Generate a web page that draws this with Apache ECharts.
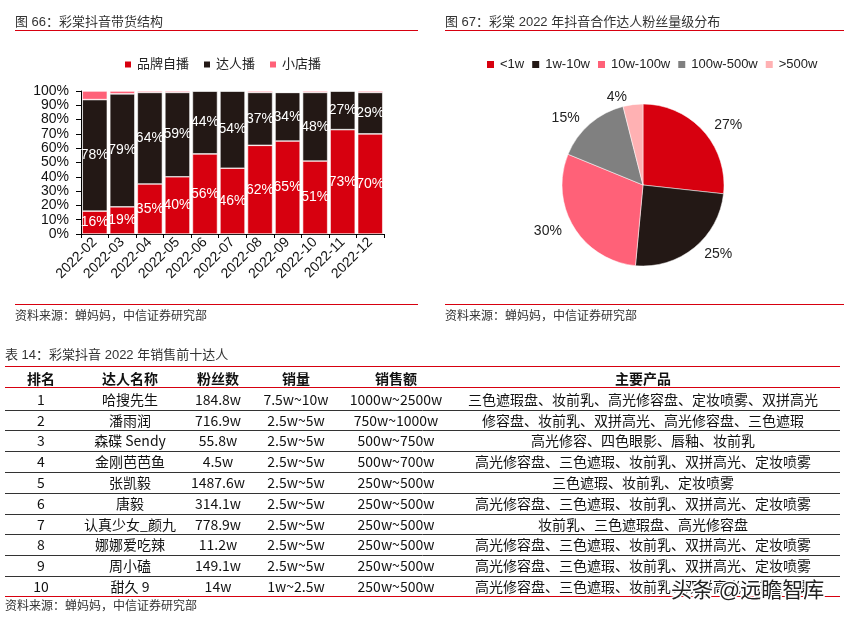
<!DOCTYPE html>
<html>
<head>
<meta charset="utf-8">
<script src="https://cdn.jsdelivr.net/npm/echarts@6/dist/echarts.min.js"></script>
<style>
html, body { margin: 0; padding: 0; background: #fff; }
#main { width: 844px; height: 621px; }
</style>
</head>
<body>
<div id="main"></div>
<script>
// 图66 数据
var months = ['2022-02','2022-03','2022-04','2022-05','2022-06','2022-07','2022-08','2022-09','2022-10','2022-11','2022-12'];
var selfLive = [16, 19, 35, 40, 56, 46, 62, 65, 51, 73, 70];
var talentLive = [78, 79, 64, 59, 44, 54, 37, 34, 48, 27, 29];
var shopLive = [6, 2, 1, 1, 0, 0, 1, 0, 1, 0, 1];

// 图67 数据
var fanLevels = ['<1w', '1w-10w', '10w-100w', '100w-500w', '>500w'];
var fanShare = [27, 25, 30, 15, 4];

// 表14 数据
var tableHeader = ['排名', '达人名称', '粉丝数', '销量', '销售额', '主要产品'];
var ranks = ['1', '2', '3', '4', '5', '6', '7', '8', '9', '10'];
var names = ['哈搜先生', '潘雨润', '森碟 Sendy', '金刚芭芭鱼', '张凯毅', '唐毅', '认真少女_颜九', '娜娜爱吃辣', '周小磕', '甜久 9'];
var fans = ['184.8w', '716.9w', '55.8w', '4.5w', '1487.6w', '314.1w', '778.9w', '11.2w', '149.1w', '14w'];
var sales = ['7.5w~10w', '2.5w~5w', '2.5w~5w', '2.5w~5w', '2.5w~5w', '2.5w~5w', '2.5w~5w', '2.5w~5w', '2.5w~5w', '1w~2.5w'];
var revenue = ['1000w~2500w', '750w~1000w', '500w~750w', '500w~700w', '250w~500w', '250w~500w', '250w~500w', '250w~500w', '250w~500w', '250w~500w'];
var products = [
    '三色遮瑕盘、妆前乳、高光修容盘、定妆喷雾、双拼高光',
    '修容盘、妆前乳、双拼高光、高光修容盘、三色遮瑕',
    '高光修容、四色眼影、唇釉、妆前乳',
    '高光修容盘、三色遮瑕、妆前乳、双拼高光、定妆喷雾',
    '三色遮瑕、妆前乳、定妆喷雾',
    '高光修容盘、三色遮瑕、妆前乳、双拼高光、定妆喷雾',
    '妆前乳、三色遮瑕盘、高光修容盘',
    '高光修容盘、三色遮瑕、妆前乳、双拼高光、定妆喷雾',
    '高光修容盘、三色遮瑕、妆前乳、双拼高光、定妆喷雾',
    '高光修容盘、三色遮瑕、妆前乳、双拼高光、定妆喷雾'
];

var FONT = "'Liberation Sans', Arial, 'Noto Sans CJK SC', sans-serif";
var NARROW = "'Liberation Sans Narrow', 'Arial Narrow', 'Noto Sans CJK SC', sans-serif";
var RED = '#D7000F', DARK = '#231815', PINK = '#FF6178', GRAY = '#808080', LIGHT = '#FFB1B3';

function txt(text, x, y, opt) {
    opt = opt || {};
    return {
        type: 'text', silent: true, z: opt.z || 1,
        style: {
            text: text, x: x, y: y,
            align: opt.align || 'left', verticalAlign: 'middle',
            fontSize: opt.size || 13, fontFamily: opt.family || FONT,
            fontWeight: opt.weight || 'normal', fill: opt.color || '#333',
            stroke: opt.stroke, lineWidth: opt.lineWidth || 0
        }
    };
}
function line(x1, y1, x2, y2, color, w) {
    return { type: 'line', silent: true, shape: { x1: x1, y1: y1, x2: x2, y2: y2 }, style: { stroke: color, lineWidth: w || 1 } };
}

var graphics = [];
// 标题和来源
graphics.push(txt('图 66：彩棠抖音带货结构', 15, 22, { color: '#333' }));
graphics.push(line(15, 30.5, 418, 30.5, RED, 1.2));
graphics.push(txt('图 67：彩棠 2022 年抖音合作达人粉丝量级分布', 445, 22, { color: '#333' }));
graphics.push(line(445, 30.5, 844, 30.5, RED, 1.2));
graphics.push(line(15, 304.5, 418, 304.5, RED, 1.2));
graphics.push(line(445, 304.5, 844, 304.5, RED, 1.2));
graphics.push(txt('资料来源：蝉妈妈，中信证券研究部', 15, 317, { size: 12, color: '#333' }));
graphics.push(txt('资料来源：蝉妈妈，中信证券研究部', 445, 317, { size: 12, color: '#333' }));

// 表格
var colX = [41, 130, 218, 296, 396, 643];
var headerY = 379, rowY0 = 399.5, rowH = 20.8;
graphics.push(txt('表 14：彩棠抖音 2022 年销售前十达人', 5, 355, { color: '#333' }));
graphics.push(line(5, 366.5, 840, 366.5, RED, 1.2));
tableHeader.forEach(function (h, c) {
    graphics.push(txt(h, colX[c], headerY, { align: 'center', weight: 'bold', size: 14, color: '#111', family: NARROW }));
});
graphics.push(line(5, 387.5, 840, 387.5, RED, 1.2));
var cols = [ranks, names, fans, sales, revenue, products];
for (var r = 0; r < ranks.length; r++) {
    var y = rowY0 + r * rowH;
    cols.forEach(function (col, c) {
        graphics.push(txt(col[r], colX[c], y, { align: 'center', size: 14, color: '#111', family: NARROW }));
    });
    if (r < ranks.length - 1) {
        graphics.push(line(5, Math.round(y + 10) + 0.5, 840, Math.round(y + 10) + 0.5, '#333', 1));
    }
}
graphics.push(line(5, 596.5, 840, 596.5, RED, 1.2));
graphics.push(txt('资料来源：蝉妈妈，中信证券研究部', 5, 607, { size: 12, color: '#333' }));
graphics.push(txt('头条 @远瞻智库', 671, 591, { size: 21, color: '#222', stroke: '#fff', lineWidth: 3, z: 10 }));

var chart = echarts.init(document.getElementById('main'));

var barLabel = { show: true, position: 'inside', color: '#fff', fontSize: 14, fontFamily: FONT, formatter: '{c}%' };

var option = {
    animation: false,
    textStyle: { fontFamily: FONT },
    color: [RED, DARK, PINK],
    legend: [
        {
            data: ['品牌自播', '达人播', '小店播'],
            left: 118, top: 53,
            icon: 'rect', itemWidth: 8, itemHeight: 8, itemGap: 13,
            textStyle: { fontSize: 13, color: '#222' }
        },
        {
            data: fanLevels,
            left: 480, top: 53,
            icon: 'rect', itemWidth: 9, itemHeight: 9, itemGap: 6,
            textStyle: { fontSize: 13, color: '#222' }
        }
    ],
    grid: { left: 81, top: 91, width: 303, height: 143 },
    xAxis: {
        type: 'category',
        data: months,
        axisLine: { lineStyle: { color: '#000', width: 1 } },
        axisTick: { show: true, length: 4, lineStyle: { color: '#000' } },
        axisLabel: { rotate: 45, interval: 0, fontSize: 14, color: '#111', margin: 6 }
    },
    yAxis: {
        type: 'value', min: 0, max: 100, interval: 10,
        axisLine: { show: true, lineStyle: { color: '#000', width: 1 } },
        axisTick: { show: true, length: 5, lineStyle: { color: '#000' } },
        splitLine: { show: false },
        axisLabel: { formatter: '{value}%', fontSize: 14, color: '#111', margin: 12 }
    },
    series: [
        {
            name: '品牌自播', type: 'bar', stack: 'a', data: selfLive, barCategoryGap: '9%',
            itemStyle: { color: RED, borderColor: '#fff', borderWidth: 0.6 },
            label: barLabel
        },
        {
            name: '达人播', type: 'bar', stack: 'a', data: talentLive,
            itemStyle: { color: DARK, borderColor: '#fff', borderWidth: 0.6 },
            label: barLabel
        },
        {
            name: '小店播', type: 'bar', stack: 'a', data: shopLive,
            itemStyle: { color: PINK, borderColor: '#fff', borderWidth: 0.6 }
        },
        {
            name: '粉丝量级', type: 'pie',
            center: [643, 185], radius: 81,
            startAngle: 90, clockwise: true,
            data: fanLevels.map(function (n, i) { return { name: n, value: fanShare[i] }; }),
            color: [RED, DARK, PINK, GRAY, LIGHT],
            itemStyle: { borderColor: '#fff', borderWidth: 0.5 },
            label: { show: true, position: 'outside', formatter: '{c}%', fontSize: 14, color: '#222' },
            labelLine: { show: false, length: 8, length2: 0 }
        }
    ],
    graphic: graphics
};
chart.setOption(option);
</script>
</body>
</html>
